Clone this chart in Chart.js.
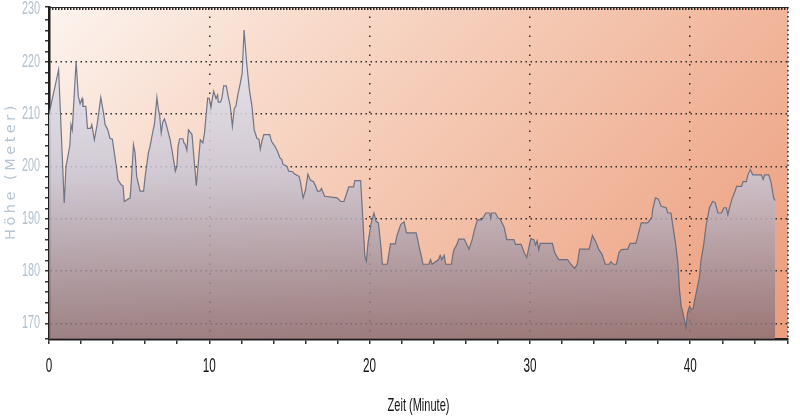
<!DOCTYPE html>
<html>
<head>
<meta charset="utf-8">
<script src="https://cdn.jsdelivr.net/npm/chart.js@4.4.1/dist/chart.umd.min.js"></script>
<style>
  html, body { margin: 0; padding: 0; background: #fff; }
  canvas { display: block; }
</style>
</head>
<body>
<canvas id="hoehenChart" width="800" height="420"></canvas>
<script>
// Höhenprofil: Zeit in Minuten, Höhe in Metern
const minutes = [
  0, 0.6, 0.95, 1.06, 1.3, 1.37, 1.45, 1.69, 1.83, 1.94,
  2.06, 2.12, 2.3, 2.4, 2.6, 2.67, 2.83, 3.0, 3.23, 3.4,
  3.5, 3.67, 3.8, 3.95, 4.05, 4.2, 4.3, 4.5, 4.62, 4.7,
  5.06, 5.15, 5.27, 5.37, 5.47, 5.62, 5.68, 5.9, 6.0, 6.2,
  6.3, 6.46, 6.58, 6.73, 6.83, 6.9, 7.0, 7.1, 7.2, 7.3,
  7.56, 7.7, 7.88, 7.98, 8.05, 8.15, 8.35, 8.42, 8.5, 8.6,
  8.7, 8.92, 9.19, 9.44, 9.6, 9.7, 9.9, 10.0, 10.1, 10.27,
  10.42, 10.52, 10.56, 10.7, 10.78, 10.9, 11.06, 11.2, 11.3, 11.44,
  11.56, 11.66, 11.78, 11.9, 12.05, 12.17, 12.33, 12.5, 12.67, 12.8,
  12.97, 13.1, 13.18, 13.28, 13.4, 13.77, 13.88, 14.1, 14.25, 14.4,
  14.52, 14.6, 14.85, 14.95, 15.2, 15.3, 15.6, 15.7, 15.85, 16.0,
  16.15, 16.3, 16.5, 16.6, 16.75, 16.9, 17.0, 17.1, 17.2, 17.98,
  18.2, 18.4, 18.5, 18.7, 19.0, 19.08, 19.44, 19.58, 19.7, 19.8,
  19.9, 20.1, 20.27, 20.4, 20.55, 20.7, 20.8, 21.1, 21.3, 21.6,
  21.7, 21.94, 22.15, 22.3, 22.9, 23.0, 23.1, 23.2, 23.33, 23.7,
  23.8, 23.9, 24.3, 24.4, 24.5, 24.65, 24.75, 25.1, 25.2, 25.27,
  25.45, 25.56, 25.9, 26.0, 26.2, 26.4, 26.55, 26.73, 27.0, 27.1,
  27.25, 27.5, 27.55, 27.62, 27.85, 28.0, 28.15, 28.4, 28.56, 29.0,
  29.1, 29.45, 29.65, 29.8, 29.9, 30.06, 30.25, 30.35, 30.45, 30.55,
  30.65, 31.4, 31.55, 31.8, 32.35, 32.55, 32.8, 32.95, 33.1, 33.7,
  33.9, 34.0, 34.15, 34.3, 34.5, 34.7, 34.95, 35.05, 35.2, 35.4,
  35.55, 35.7, 36.1, 36.25, 36.6, 36.7, 36.94, 37.35, 37.6, 37.66,
  37.83, 38.0, 38.19, 38.5, 38.6, 38.8, 38.92, 39.08, 39.23, 39.33,
  39.44, 39.55, 39.65, 39.73, 39.83, 39.96, 40.06, 40.17, 40.27, 40.42,
  40.58, 40.68, 40.83, 41.0, 41.2, 41.4, 41.55, 41.73, 41.95, 42.1,
  42.25, 42.35, 42.45, 42.6, 42.8, 42.9, 43.2, 43.3, 43.5, 43.6,
  43.75, 43.9, 44.44, 44.55, 44.65, 44.9, 45.05, 45.2, 45.3
];
const heights = [
  210, 218.5, 193, 200, 204, 208, 207, 220, 213.4, 212,
  213, 211.5, 211.5, 207.3, 207.3, 208, 205.1, 208, 213.2, 210.3,
  208, 207, 205.4, 205.2, 203.2, 200, 197.5, 196.5, 196.3, 193.3,
  194, 198, 204.2, 202.6, 198.1, 196.2, 195.3, 195.3, 198.1, 202.6,
  203.8, 206.4, 208.2, 213.2, 210.8, 209.9, 206.4, 208.5, 209.1, 208.2,
  205.1, 202.6, 199.1, 200, 203.8, 205.3, 205.3, 204.5, 204.2, 203.1,
  207, 206.1, 196.3, 205.1, 204.5, 206.4, 213.1, 213, 211.3, 214.4,
  213, 213.7, 212.3, 212.3, 213, 215.4, 215.4, 213, 211.7, 207.7,
  211.1, 211.5, 213.7, 215.4, 217.8, 226.1, 219.8, 214.7, 211.3, 207,
  205.4, 205.2, 203.3, 204.8, 206.1, 206.1, 204.8, 203.8, 202.9, 201.7,
  201.3, 200.4, 200, 199.1, 199, 198.6, 198.1, 196.8, 194, 195.5,
  198.5, 197.4, 197.1, 196.5, 195.3, 195.3, 195.8, 195, 194.3, 194,
  193.3, 193.3, 194.2, 196.1, 196.1, 197.3, 197.3, 189.9, 182.9, 181.9,
  185.4, 189.2, 191.1, 189.5, 189.2, 184.8, 181.3, 181.3, 185.2, 185.2,
  186.7, 188.9, 189.4, 187.3, 187.3, 186, 184.5, 183.3, 181.3, 181.3,
  182.2, 181.3, 182.2, 183, 182.2, 183, 181.3, 181.3, 183.3, 184.1,
  185.1, 186.1, 186.1, 185.5, 184.2, 186, 188, 189.8, 189.8, 190.3,
  191.1, 191.1, 190.1, 191.1, 191.1, 190.2, 189.9, 188.3, 186, 186,
  185.1, 185.1, 183.5, 182.6, 184, 186.2, 186, 185, 185.8, 184.1,
  185.3, 185.3, 183.5, 182.2, 182.2, 181.3, 180.5, 181.3, 184.2, 184.2,
  186.8, 186.2, 185.3, 184.1, 183.2, 181.3, 181.3, 181.8, 181.3, 181.3,
  183.5, 184.1, 184.2, 185.3, 185.3, 186.3, 189.2, 189.2, 190.2, 191.8,
  194, 193.8, 192.4, 192.1, 191.1, 191.1, 188.6, 185.4, 181.6, 176.5,
  173.3, 172, 170.4, 169.2, 172, 173.3, 172.7, 172.7, 174.3, 176.5,
  179, 182.2, 184.8, 188.9, 192.1, 193.3, 193.1, 191.1, 191.1, 192.1,
  192.1, 190.8, 192.1, 193.7, 195.3, 196.2, 196.2, 197.1, 197.1, 198.4,
  199.4, 198.4, 198.4, 197.5, 198.4, 198.4, 196.8, 194, 193.5
];
const xTickLabels = [0, 10, 20, 30, 40];
const yTickLabels = [170, 180, 190, 200, 210, 220, 230];
const xTitle = 'Zeit (Minute)';
const yTitle = 'Höhe (Meter)';

// schmale Schrift: Liberation Sans horizontal gestaucht
function drawNarrow(ctx, text, x, y, align, size, color, squeeze) {
  ctx.save();
  ctx.translate(x, y);
  ctx.scale(squeeze, 1);
  ctx.font = size + 'px "Liberation Sans", Arial, sans-serif';
  ctx.fillStyle = color;
  ctx.textAlign = align;
  ctx.textBaseline = 'middle';
  ctx.fillText(text, 0, 0);
  ctx.restore();
}

// Hintergrund der Zeichenfläche (Verlauf creme -> lachs)
const plotBackground = {
  id: 'plotBackground',
  beforeDraw(chart) {
    const { ctx, chartArea: a } = chart;
    const g = ctx.createLinearGradient(a.left, a.top, a.right, a.bottom + 400);
    g.addColorStop(0, '#fcf4ef');
    g.addColorStop(0.2, '#f8d9c9');
    g.addColorStop(0.45, '#f2bca3');
    g.addColorStop(0.7, '#ec9f80');
    g.addColorStop(1, '#e58b68');
    ctx.save();
    ctx.fillStyle = g;
    ctx.fillRect(a.left, a.top, a.width, a.height);
    ctx.restore();
  }
};

// Rahmen oben/rechts, Achsenbeschriftung und Titel
const frameAndLabels = {
  id: 'frameAndLabels',
  afterDraw(chart) {
    const { ctx, chartArea: a, scales } = chart;
    ctx.save();
    ctx.strokeStyle = '#2a2a2a';
    ctx.lineWidth = 1;
    ctx.beginPath();
    ctx.moveTo(a.left, a.top + 0.5);
    ctx.lineTo(a.right, a.top + 0.5);
    ctx.stroke();
    ctx.setLineDash([1.5, 1.5]);
    ctx.lineWidth = 2;
    ctx.beginPath();
    ctx.moveTo(a.left, a.top + 2);
    ctx.lineTo(a.right, a.top + 2);
    ctx.stroke();
    ctx.setLineDash([1.5, 3]);
    ctx.lineWidth = 1.5;
    ctx.beginPath();
    ctx.moveTo(a.right, a.top);
    ctx.lineTo(a.right, a.bottom);
    ctx.stroke();
    ctx.restore();

    yTickLabels.forEach(v => {
      drawNarrow(ctx, String(v), 40, scales.y.getPixelForValue(v), 'right', 17.5, '#b3c1cd', 0.62);
    });
    xTickLabels.forEach(v => {
      drawNarrow(ctx, String(v), scales.x.getPixelForValue(v), 367, 'center', 19.5, '#151515', 0.6);
    });
    drawNarrow(ctx, xTitle, (a.left + a.right) / 2, 406, 'center', 19, '#151515', 0.58);

    ctx.save();
    ctx.translate(11, (a.top + a.bottom) / 2 - 2);
    ctx.rotate(-Math.PI / 2);
    ctx.font = '14.5px "DejaVu Sans"';
    ctx.letterSpacing = '3.5px';
    ctx.fillStyle = '#b8c5d0';
    ctx.textAlign = 'center';
    ctx.textBaseline = 'middle';
    ctx.fillText(yTitle, 0, 0);
    ctx.restore();
  }
};

function areaFill(c) {
  const a = c.chart.chartArea;
  if (!a) return 'rgba(200,196,210,0.85)';
  const g = c.chart.ctx.createLinearGradient(0, a.top, 0, a.bottom);
  g.addColorStop(0, 'rgba(240,240,248,0.9)');
  g.addColorStop(0.5, 'rgba(202,198,212,0.85)');
  g.addColorStop(1, 'rgba(135,108,115,0.8)');
  return g;
}

new Chart(document.getElementById('hoehenChart'), {
  type: 'line',
  data: {
    datasets: [{
      data: minutes.map((m, i) => ({ x: m, y: heights[i] })),
      borderColor: 'rgba(92,100,120,0.85)',
      borderWidth: 1.2,
      pointRadius: 0,
      tension: 0,
      fill: 'start',
      backgroundColor: areaFill
    }]
  },
  options: {
    responsive: false,
    animation: false,
    devicePixelRatio: 1,
    layout: { padding: { top: 7, right: 12, left: 0, bottom: 0 } },
    plugins: {
      legend: { display: false },
      tooltip: { enabled: false }
    },
    scales: {
      x: {
        type: 'linear',
        min: 0,
        max: 46.1,
        afterFit: (s) => { s.height = 81; },
        ticks: { stepSize: 2, autoSkip: false, display: false },
        grid: {
          color: (c) => c.tick && c.tick.value % 10 === 0 && c.tick.value > 0 ? '#2d2d2d' : 'rgba(0,0,0,0)',
          lineWidth: 1.5,
          tickLength: 5,
          tickColor: '#333'
        },
        border: { display: true, color: '#1e1e1e', width: 2.5, dash: [1.5, 8] }
      },
      y: {
        min: 167,
        max: 230.5,
        afterFit: (s) => { s.width = 49; },
        ticks: { stepSize: 2, autoSkip: false, display: false },
        grid: {
          color: (c) => c.tick && c.tick.value % 10 === 0 && c.tick.value < 230 ? '#2d2d2d' : 'rgba(0,0,0,0)',
          lineWidth: 1.5,
          tickLength: 4,
          tickColor: '#333'
        },
        border: { display: true, color: '#1e1e1e', width: 2.5, dash: [1.5, 3.5] }
      }
    }
  },
  plugins: [plotBackground, frameAndLabels]
});
</script>
</body>
</html>
